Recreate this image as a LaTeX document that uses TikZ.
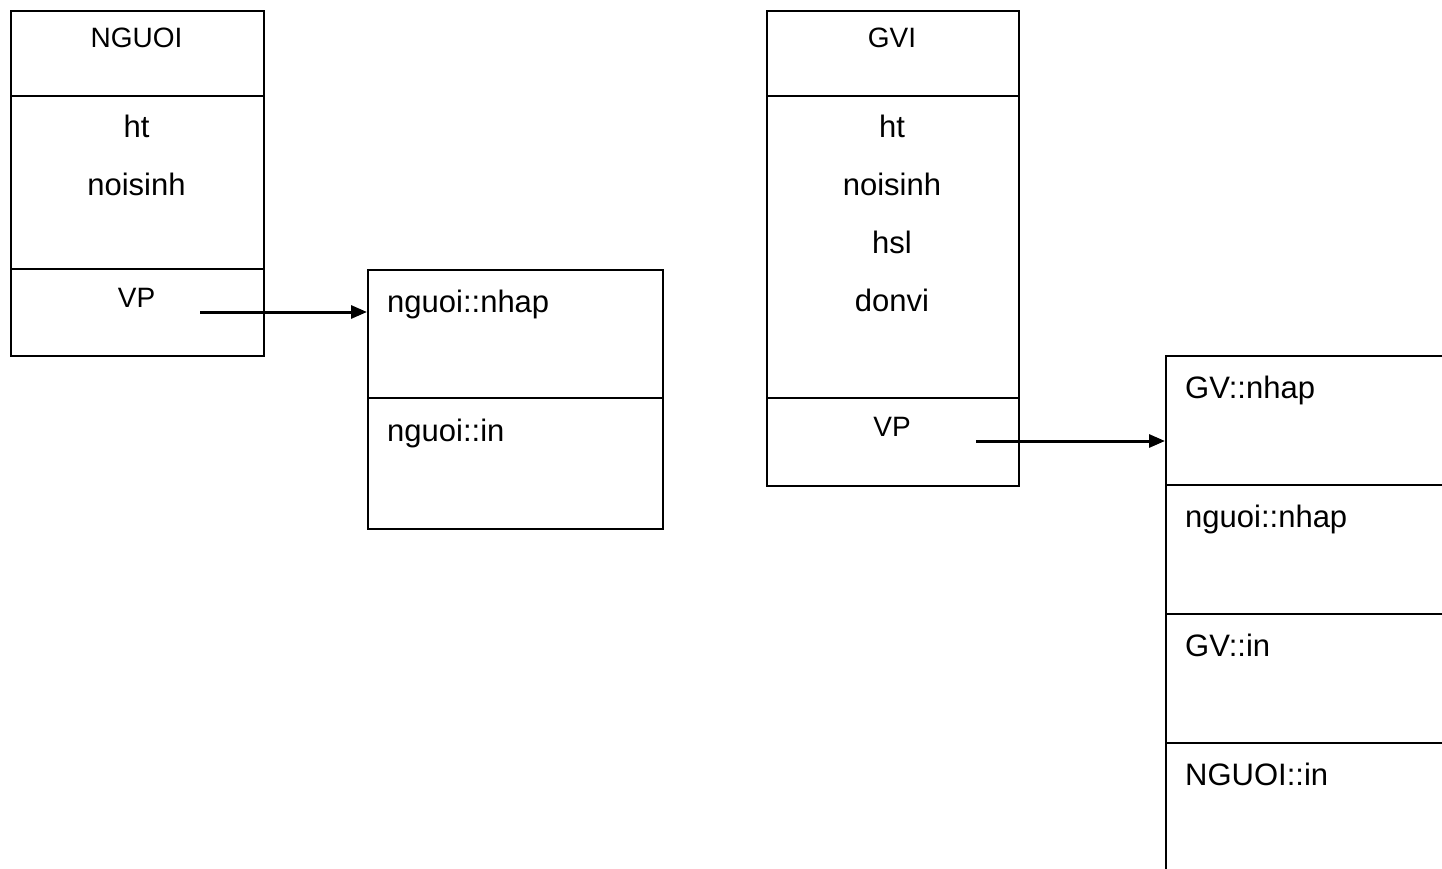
\documentclass[tikz,border=0pt]{standalone}
\usepackage{fontspec}
\setmainfont{Liberation Sans}
\usetikzlibrary{arrows.meta}
\begin{document}
\begin{tikzpicture}[x=1pt,y=-1pt,
  frame/.style={draw=black, line width=2.2pt, rectangle, inner sep=0pt, anchor=north west},
  divider/.style={draw=black, line width=2.2pt},
  titletext/.style={anchor=base, inner sep=0pt, font=\fontsize{28}{33}\selectfont},
  fieldtext/.style={anchor=base, inner sep=0pt, font=\fontsize{31}{37}\selectfont},
  methodtext/.style={anchor=base west, inner sep=0pt, font=\fontsize{31}{37}\selectfont},
  link/.style={draw=black, line width=3pt, -{Triangle[length=16pt,width=13pt]}}]
\useasboundingbox (0,0) rectangle (1442,869);
\clip (0,0) rectangle (1442,869);
\fill[white] (0,0) rectangle (1442,869);

% class NGUOI
\node[frame, minimum width=253pt, minimum height=345pt] (nguoi) at (10,10) {};
\draw[divider] (10,96) -- (263,96);
\draw[divider] (10,269) -- (263,269);
\node[titletext] (nguoiname) at (136.5,48) {NGUOI};
\node[fieldtext] (nguoiht) at (136.5,138) {ht};
\node[fieldtext] (nguoins) at (136.5,196) {noisinh};
\node[titletext] (nguoivp) at (136.5,307) {VP};

% virtual table of NGUOI
\node[frame, minimum width=295pt, minimum height=259pt] (vtn) at (367,269) {};
\draw[divider] (367,398) -- (662,398);
\node[methodtext] (vtn1) at (387,312) {nguoi::nhap};
\node[methodtext] (vtn2) at (387,441) {nguoi::in};

% class GVI
\node[frame, minimum width=252pt, minimum height=475pt] (gvi) at (766,10) {};
\draw[divider] (766,96) -- (1018,96);
\draw[divider] (766,398) -- (1018,398);
\node[titletext] (gviname) at (892,48) {GVI};
\node[fieldtext] (gviht) at (892,138) {ht};
\node[fieldtext] (gvins) at (892,196) {noisinh};
\node[fieldtext] (gvihsl) at (892,253) {hsl};
\node[fieldtext] (gvidv) at (892,311) {donvi};
\node[titletext] (gvivp) at (892,436) {VP};

% virtual table of GVI
\node[frame, minimum width=400pt, minimum height=560pt] (vtg) at (1165,355) {};
\draw[divider] (1165,485) -- (1565,485);
\draw[divider] (1165,614) -- (1565,614);
\draw[divider] (1165,743) -- (1565,743);
\node[methodtext] (vtg1) at (1185,398) {GV::nhap};
\node[methodtext] (vtg2) at (1185,527) {nguoi::nhap};
\node[methodtext] (vtg3) at (1185,656) {GV::in};
\node[methodtext] (vtg4) at (1185,785) {NGUOI::in};

% pointers from VP to the tables
\coordinate (p1) at (200,312);
\coordinate (p2) at (976,441);
\draw[link] (p1) -- (p1 -| vtn.west);
\draw[link] (p2) -- (p2 -| vtg.west);
\end{tikzpicture}
\end{document}
